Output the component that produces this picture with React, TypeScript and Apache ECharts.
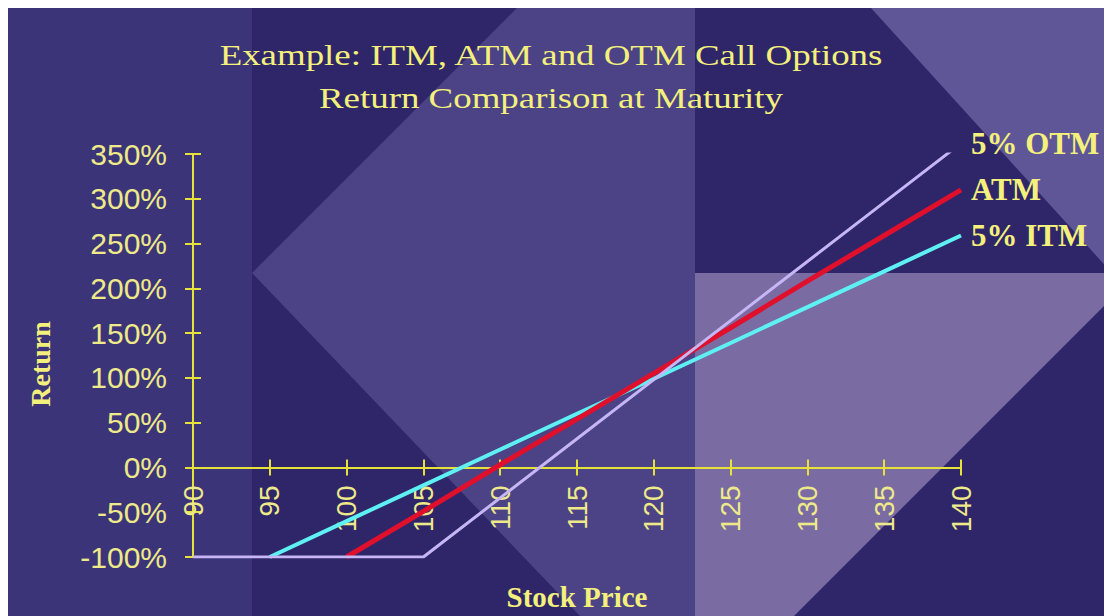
import React, { useEffect, useRef } from "react";
import * as echarts from "echarts";

const stockPrices = [90, 95, 100, 105, 110, 115, 120, 125, 130, 135, 140];
const itmReturns = [null, -100, -60, -20, 20, 60, 99, 139, 179, 219, 259];
const atmReturns = [null, null, -100, -49, 3, 54, 105, 156, 208, 259, 310];
const otmReturns = [-100, -100, -100, -100, -34, 32, 98, 164, 230, 296, 362];
const seriesNames = ["5% ITM", "ATM", "5% OTM"];
const titleLines = ["Example: ITM, ATM and OTM Call Options", "Return Comparison at Maturity"];
const xAxisTitle = "Stock Price";
const yAxisTitle = "Return";

const YELLOW = "#f4f07c";
const LABEL = "#eeea8a";
const AXIS = "#e6e23a";

const Y_MIN = -100;
const Y_MAX = 350;
const GRID = { left: 185, right: 151, top: 146, bottom: 59 };
const CHART_W = 1104;
const CHART_H = 608;

function pairs(values: (number | null)[]) {
  const out: number[][] = [];
  values.forEach((v, i) => {
    if (v !== null) out.push([stockPrices[i], v]);
  });
  return out;
}

export default function App() {
  const ref = useRef<HTMLDivElement>(null);
  useEffect(() => {
    if (!ref.current) return;
    const chart = echarts.init(ref.current, null, { renderer: "svg" });
    const gridH = CHART_H - GRID.top - GRID.bottom;
    const gridW = CHART_W - GRID.left - GRID.right;
    const zeroFromBottom = (gridH * (0 - Y_MIN)) / (Y_MAX - Y_MIN);
    const endLabel = {
      show: true,
      formatter: "{a}",
      distance: 10,
      color: YELLOW,
      fontFamily: "Liberation Serif",
      fontWeight: "bold",
      fontSize: 31,
    };
    const bg = (z: number) => ({ z, silent: true });
    const tick = { show: true, length: 8, lineStyle: { color: AXIS, width: 2 } };
    const line = { show: true, onZero: false, lineStyle: { color: AXIS, width: 2 } };
    chart.setOption({
      animation: false,
      backgroundColor: "#2e2669",
      grid: { ...GRID, containLabel: false, outerBoundsMode: "none" },
      graphic: [
        { type: "rect", ...bg(-30), shape: { x: 0, y: 0, width: 244, height: 608 }, style: { fill: "#3c3479" } },
        {
          type: "polygon", ...bg(-30),
          shape: { points: [[244, 265], [527, -18], [687, -18], [687, 608], [572, 608]] },
          style: { fill: "#4b4386" },
        },
        { type: "rect", ...bg(-30), shape: { x: 687, y: 265, width: 417, height: 343 }, style: { fill: "#7a6ca3" } },
        {
          type: "polygon", ...bg(-30),
          shape: { points: [[863, 0], [1104, 0], [1104, 265]] },
          style: { fill: "#5f5698" },
        },
        {
          type: "polygon", ...bg(-30),
          shape: { points: [[1104, 290], [1104, 608], [786, 608]] },
          style: { fill: "#2f2569" },
        },
        {
          type: "text", z: 10, x: 543, y: 47, scaleX: 1.23,
          style: { text: titleLines[0], font: "30px 'Liberation Serif'", fill: YELLOW, align: "center", verticalAlign: "middle" },
        },
        {
          type: "text", z: 10, x: 543, y: 90, scaleX: 1.23,
          style: { text: titleLines[1], font: "30px 'Liberation Serif'", fill: YELLOW, align: "center", verticalAlign: "middle" },
        },
        {
          type: "text", z: 10, x: 32, y: 356, rotation: Math.PI / 2,
          style: { text: yAxisTitle, font: "bold 28px 'Liberation Serif'", fill: YELLOW, align: "center", verticalAlign: "middle" },
        },
        {
          type: "text", z: 10, x: 569, y: 589,
          style: { text: xAxisTitle, font: "bold 29px 'Liberation Serif'", fill: YELLOW, align: "center", verticalAlign: "middle" },
        },
      ],
      xAxis: [
        {
          type: "value", min: 90, max: 140, interval: 5, position: "bottom", offset: -zeroFromBottom,
          axisLine: line,
          axisTick: tick,
          axisLabel: { rotate: 90, margin: 18, fontSize: 28, fontFamily: "Liberation Sans", color: LABEL },
          splitLine: { show: false },
        },
        {
          type: "value", min: 90, max: 140, interval: 5, position: "top", offset: -(gridH - zeroFromBottom),
          axisLine: line,
          axisTick: tick,
          axisLabel: { show: false },
          splitLine: { show: false },
        },
      ],
      yAxis: [
        {
          type: "value", min: Y_MIN, max: Y_MAX, interval: 50, position: "left",
          axisLine: line,
          axisTick: tick,
          axisLabel: { formatter: "{value}%", margin: 26, fontSize: 30, fontFamily: "Liberation Sans", color: LABEL },
          splitLine: { show: false },
        },
        {
          type: "value", min: Y_MIN, max: Y_MAX, interval: 50, position: "right", offset: -gridW,
          axisLine: line,
          axisTick: tick,
          axisLabel: { show: false },
          splitLine: { show: false },
        },
      ],
      series: [
        {
          name: seriesNames[0], type: "line", data: pairs(itmReturns), symbol: "none",
          lineStyle: { color: "#5ef0f2", width: 4 }, itemStyle: { color: "#5ef0f2" }, endLabel, z: 3,
        },
        {
          name: seriesNames[1], type: "line", data: pairs(atmReturns), symbol: "none",
          lineStyle: { color: "#e0102c", width: 5 }, itemStyle: { color: "#e0102c" }, endLabel, z: 4,
        },
        {
          name: seriesNames[2], type: "line", data: pairs(otmReturns), symbol: "none",
          lineStyle: { color: "#c6b6f6", width: 3 }, itemStyle: { color: "#c6b6f6" }, endLabel, z: 5,
        },
      ],
    });
    return () => chart.dispose();
  }, []);
  return <div ref={ref} style={{ width: CHART_W, height: CHART_H }} />;
}
